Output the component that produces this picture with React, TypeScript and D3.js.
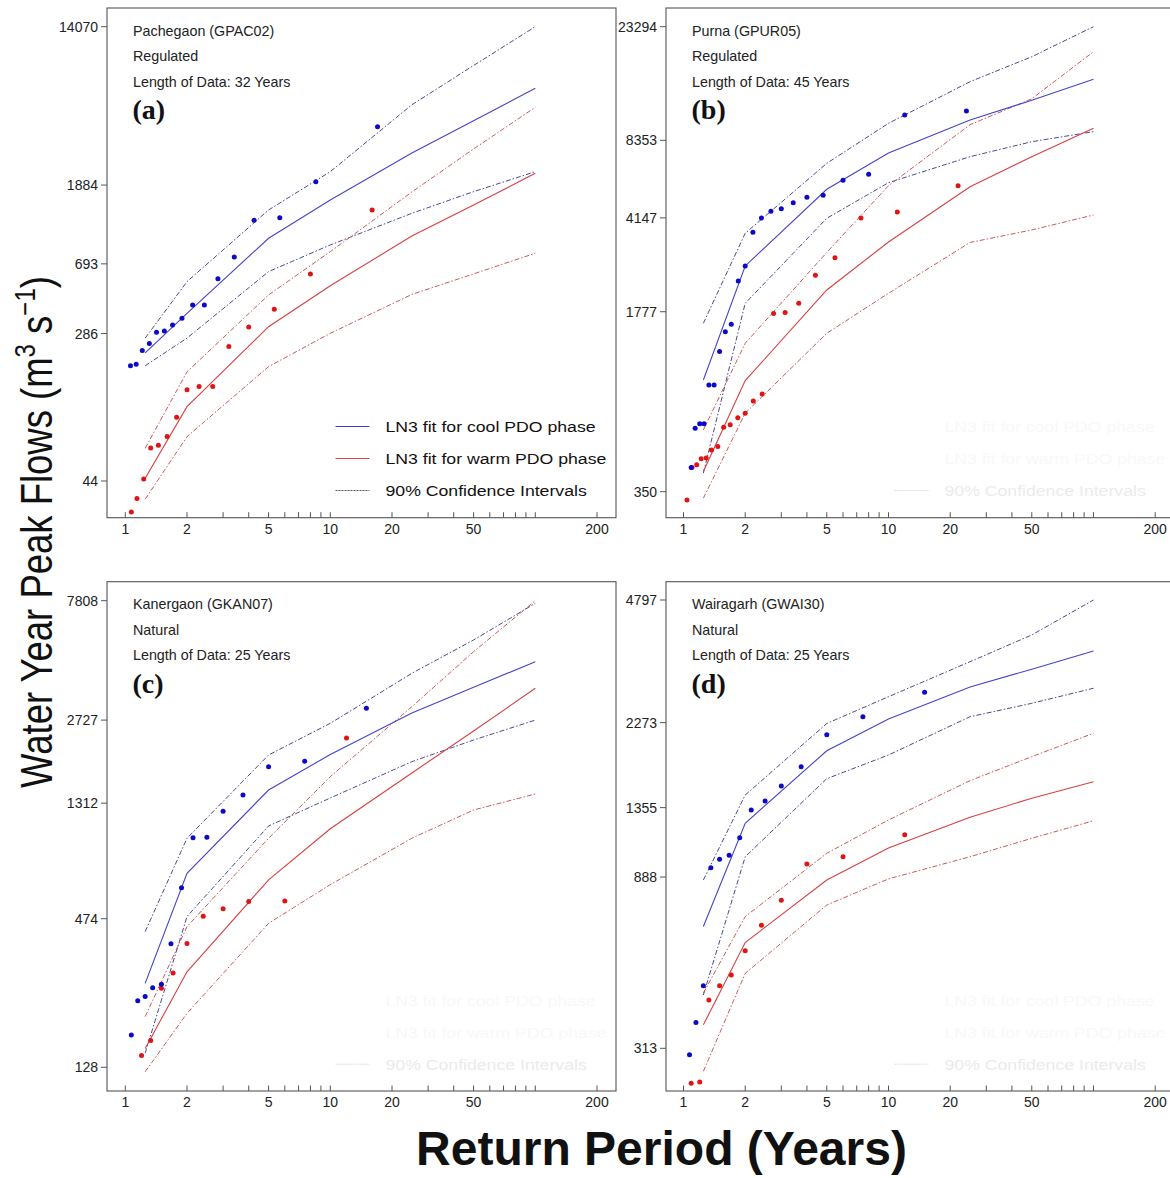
import React from "react";
import * as d3 from "d3";

// ---------- shared data ----------
const fitReturnPeriods = [1.25, 2, 5, 10, 25, 50, 100];
const xTickValues = [1, 2, 3, 4, 5, 6, 7, 8, 9, 10, 20, 30, 40, 50, 60, 70, 80, 90, 100, 200];
const xTickLabels = [1, 2, 5, 10, 20, 50, 200];
const legendLabels = ["LN3 fit for cool PDO phase", "LN3 fit for warm PDO phase", "90% Confidence Intervals"];

// ---------- (a) Pachegaon ----------
const aInfo = ["Pachegaon (GPAC02)", "Regulated", "Length of Data: 32 Years", "(a)"];
const aYTicks = [44, 286, 693, 1884, 14070];
const aCoolT = [1.06, 1.13, 1.21, 1.31, 1.42, 1.55, 1.7, 1.89, 2.13, 2.43, 2.83, 3.4, 4.25, 5.67, 8.5, 17];
const aCoolQ = [190, 194, 231, 252, 291, 295, 319, 347, 411, 411, 574, 756, 1205, 1245, 1967, 3954];
const aWarmT = [1.07, 1.14, 1.23, 1.33, 1.45, 1.6, 1.78, 2, 2.29, 2.67, 3.2, 4, 5.33, 8, 16];
const aWarmQ = [29.7, 35.2, 45.2, 66.9, 69.3, 77.3, 98.9, 140, 146, 146, 243, 311, 389, 610, 1373];
const aCoolFit = [224, 370, 959, 1560, 2828, 4261, 6436];
const aCoolUp = [270, 553, 1373, 2234, 5221, 8600, 14070];
const aCoolLo = [190, 270, 628, 881, 1317, 1733, 2234];
const aWarmFit = [45.6, 113, 312, 525, 987, 1463, 2188];
const aWarmUp = [66.7, 176, 467, 809, 1726, 2980, 5058];
const aWarmLo = [34.9, 77.3, 188, 287, 470, 610, 793];

// ---------- (b) Purna ----------
const bInfo = ["Purna (GPUR05)", "Regulated", "Length of Data: 45 Years", "(b)"];
const bYTicks = [350, 1777, 4147, 8353, 23294];
const bCoolT = [1.09, 1.14, 1.2, 1.26, 1.33, 1.41, 1.5, 1.6, 1.71, 1.85, 2, 2.18, 2.4, 2.67, 3, 3.43, 4, 4.8, 6, 8, 12, 24];
const bCoolQ = [435, 621, 647, 647, 918, 918, 1240, 1484, 1587, 2346, 2686, 3640, 4143, 4401, 4506, 4756, 4993, 5084, 5823, 6147, 10498, 10882];
const bWarmT = [1.04, 1.1, 1.16, 1.22, 1.29, 1.37, 1.47, 1.57, 1.69, 1.84, 2, 2.19, 2.42, 2.75, 3.13, 3.65, 4.4, 5.48, 7.34, 11.04, 21.85];
const bWarmQ = [325, 435, 446, 471, 474, 510, 526, 626, 641, 683, 711, 794, 846, 1747, 1763, 1918, 2470, 2895, 4143, 4373, 5545];
const bCoolFit = [960, 2686, 5368, 7450, 10035, 11988, 14488];
const bCoolUp = [1601, 3608, 6785, 9739, 14178, 17766, 23294];
const bCoolLo = [414, 1918, 4131, 5697, 7205, 8249, 9029];
const bWarmFit = [420, 954, 2163, 3336, 5495, 7205, 9308];
const bWarmUp = [611, 1337, 3035, 5545, 9616, 12152, 18587];
const bWarmLo = [330, 711, 1463, 2099, 3321, 3718, 4256];

// ---------- (c) Kanergaon ----------
const cInfo = ["Kanergaon (GKAN07)", "Natural", "Length of Data: 25 Years", "(c)"];
const cYTicks = [128, 474, 1312, 2727, 7808];
const cCoolT = [1.07, 1.15, 1.25, 1.36, 1.5, 1.67, 1.88, 2.14, 2.5, 3, 3.75, 5, 7.5, 15];
const cCoolQ = [170, 230, 239, 258, 266, 380, 622, 968, 971, 1221, 1410, 1809, 1897, 3027];
const cWarmT = [1.2, 1.33, 1.5, 1.71, 2, 2.4, 3, 4, 6, 12];
const cWarmQ = [142, 162, 257, 294, 381, 484, 517, 551, 554, 2329];
const cCoolFit = [268, 707, 1473, 2014, 2904, 3640, 4561];
const cCoolUp = [423, 963, 2005, 2651, 4119, 5524, 7630];
const cCoolLo = [145, 483, 1073, 1373, 1891, 2288, 2727];
const cWarmFit = [151, 297, 667, 1047, 1712, 2477, 3609];
const cWarmUp = [200, 442, 963, 1657, 3069, 4983, 7808];
const cWarmLo = [123, 206, 455, 640, 963, 1235, 1422];

// ---------- (d) Wairagarh ----------
const dInfo = ["Wairagarh (GWAI30)", "Natural", "Length of Data: 25 Years", "(d)"];
const dYTicks = [313, 888, 1355, 2273, 4797];
const dCoolT = [1.07, 1.15, 1.25, 1.36, 1.5, 1.67, 1.88, 2.14, 2.5, 3, 3.75, 5, 7.5, 15];
const dCoolQ = [301, 366, 458, 940, 990, 1014, 1128, 1336, 1411, 1546, 1739, 2113, 2357, 2735];
const dWarmT = [1.09, 1.2, 1.33, 1.5, 1.71, 2, 2.4, 3, 4, 6, 12];
const dWarmQ = [253, 255, 420, 458, 489, 567, 662, 771, 962, 1005, 1149];
const dCoolFit = [657, 1232, 1916, 2325, 2825, 3147, 3517];
const dCoolUp = [872, 1463, 2262, 2662, 3295, 3877, 4797];
const dCoolLo = [433, 1005, 1616, 1867, 2357, 2557, 2803];
const dWarmFit = [361, 596, 872, 1060, 1278, 1435, 1587];
const dWarmUp = [438, 698, 1026, 1257, 1597, 1848, 2131];
const dWarmLo = [272, 494, 749, 878, 1005, 1124, 1251];

const panels = [
  { info: aInfo, yTicks: aYTicks, coolT: aCoolT, coolQ: aCoolQ, warmT: aWarmT, warmQ: aWarmQ,
    coolFit: aCoolFit, coolUp: aCoolUp, coolLo: aCoolLo, warmFit: aWarmFit, warmUp: aWarmUp, warmLo: aWarmLo,
    layout: { left: 107, right: 616, top: 8, bottom: 517.7, x1: 125.3, yLo: 481, yHi: 26.7 }, legend: "full" },
  { info: bInfo, yTicks: bYTicks, coolT: bCoolT, coolQ: bCoolQ, warmT: bWarmT, warmQ: bWarmQ,
    coolFit: bCoolFit, coolUp: bCoolUp, coolLo: bCoolLo, warmFit: bWarmFit, warmUp: bWarmUp, warmLo: bWarmLo,
    layout: { left: 666, right: 1176, top: 8, bottom: 517.7, x1: 683.5, yLo: 491.7, yHi: 26.7 }, legend: "ghost" },
  { info: cInfo, yTicks: cYTicks, coolT: cCoolT, coolQ: cCoolQ, warmT: cWarmT, warmQ: cWarmQ,
    coolFit: cCoolFit, coolUp: cCoolUp, coolLo: cCoolLo, warmFit: cWarmFit, warmUp: cWarmUp, warmLo: cWarmLo,
    layout: { left: 107, right: 616, top: 581.7, bottom: 1091, x1: 125.3, yLo: 1067.3, yHi: 600.7 }, legend: "ghost" },
  { info: dInfo, yTicks: dYTicks, coolT: dCoolT, coolQ: dCoolQ, warmT: dWarmT, warmQ: dWarmQ,
    coolFit: dCoolFit, coolUp: dCoolUp, coolLo: dCoolLo, warmFit: dWarmFit, warmUp: dWarmUp, warmLo: dWarmLo,
    layout: { left: 666, right: 1176, top: 581.7, bottom: 1091, x1: 683.5, yLo: 1048.3, yHi: 600 }, legend: "ghost" },
];

const SANS = "'Liberation Sans', Arial, Helvetica, sans-serif";
const SERIF = "'Liberation Serif', 'Times New Roman', serif";
const BLUE_PT = "#0a0ac8";
const RED_PT = "#e01414";
const BLUE_FIT = "#4444cc";
const RED_FIT = "#d84040";
const BLUE_CI = "#4a4a90";
const RED_CI = "#c85a5a";
const CI_DASH = "5,2,1.5,2";

function Panel({ p }: { p: any }) {
  const L = p.layout;
  const x = d3.scaleLog().domain([1, 200]).range([L.x1, L.x1 + 471.7]);
  const y = d3
    .scaleLog()
    .domain([p.yTicks[0], p.yTicks[p.yTicks.length - 1]])
    .range([L.yLo, L.yHi]);
  const line = d3
    .line<[number, number]>()
    .x((d) => x(d[0]))
    .y((d) => y(d[1]));
  const mk = (vals: number[]) => line(fitReturnPeriods.map((t, i) => [t, vals[i]]) as [number, number][]) || "";

  const legX0 = L.left + 228.5;
  const legX1 = L.left + 262.5;
  const legTx = L.left + 278.5;
  const legY = [L.top + 418.5, L.top + 450.5, L.top + 482.5];
  const ghost = p.legend === "ghost";
  const stretch = `translate(${legTx},0) scale(1.14,1) translate(${-legTx},0)`;

  return (
    <g>
      {/* frame */}
      <rect x={L.left} y={L.top} width={L.right - L.left} height={L.bottom - L.top} fill="none" stroke="#555" strokeWidth={1.1} />

      {/* y ticks */}
      {p.yTicks.map((v: number) => (
        <g key={"y" + v}>
          <line x1={L.left - 6} x2={L.left} y1={y(v)} y2={y(v)} stroke="#555" strokeWidth={1} />
          <text x={L.left - 9} y={y(v)} dy="0.36em" textAnchor="end" fontFamily={SANS} fontSize={14} fill="#222">
            {v}
          </text>
        </g>
      ))}

      {/* x ticks */}
      {xTickValues.map((t) => (
        <line key={"xt" + t} x1={x(t)} x2={x(t)} y1={L.bottom} y2={L.bottom - 5.5} stroke="#555" strokeWidth={1} />
      ))}
      {xTickLabels.map((t) => (
        <text key={"xl" + t} x={x(t)} y={L.bottom + 16} textAnchor="middle" fontFamily={SANS} fontSize={14} fill="#222">
          {t}
        </text>
      ))}

      {/* info text */}
      <text x={L.left + 26} y={L.top + 27.5} fontFamily={SANS} fontSize={14.3} fill="#222">{p.info[0]}</text>
      <text x={L.left + 26} y={L.top + 53} fontFamily={SANS} fontSize={14.3} fill="#222">{p.info[1]}</text>
      <text x={L.left + 26} y={L.top + 78.5} fontFamily={SANS} fontSize={14.3} fill="#222">{p.info[2]}</text>
      <text x={L.left + 25.5} y={L.top + 111} fontFamily={SERIF} fontWeight="bold" fontSize={28} fill="#111">{p.info[3]}</text>

      {/* confidence intervals */}
      <path d={mk(p.coolUp)} fill="none" stroke={BLUE_CI} strokeWidth={1} strokeDasharray={CI_DASH} />
      <path d={mk(p.coolLo)} fill="none" stroke={BLUE_CI} strokeWidth={1} strokeDasharray={CI_DASH} />
      <path d={mk(p.warmUp)} fill="none" stroke={RED_CI} strokeWidth={1} strokeDasharray={CI_DASH} />
      <path d={mk(p.warmLo)} fill="none" stroke={RED_CI} strokeWidth={1} strokeDasharray={CI_DASH} />
      {/* fits */}
      <path d={mk(p.coolFit)} fill="none" stroke={BLUE_FIT} strokeWidth={1.1} />
      <path d={mk(p.warmFit)} fill="none" stroke={RED_FIT} strokeWidth={1.1} />

      {/* points */}
      {p.warmT.map((t: number, i: number) => (
        <circle key={"w" + i} cx={x(t)} cy={y(p.warmQ[i])} r={2.5} fill={RED_PT} />
      ))}
      {p.coolT.map((t: number, i: number) => (
        <circle key={"c" + i} cx={x(t)} cy={y(p.coolQ[i])} r={2.5} fill={BLUE_PT} />
      ))}

      {/* legend */}
      {ghost ? (
        <g>
          <text x={legTx} y={legY[0]} dy="0.36em" fontFamily={SANS} fontSize={15.5} fill="#f8f8f8" transform={stretch}>{legendLabels[0]}</text>
          <text x={legTx} y={legY[1]} dy="0.36em" fontFamily={SANS} fontSize={15.5} fill="#f8f8f8" transform={stretch}>{legendLabels[1]}</text>
          <line x1={legX0} x2={legX1} y1={legY[2]} y2={legY[2]} stroke="#dddddd" strokeWidth={1} strokeDasharray="2,1" />
          <text x={legTx} y={legY[2]} dy="0.36em" fontFamily={SANS} fontSize={15.5} fill="#ebebeb" transform={stretch}>{legendLabels[2]}</text>
        </g>
      ) : (
        <g>
          <line x1={legX0} x2={legX1} y1={legY[0]} y2={legY[0]} stroke="#3a3ae6" strokeWidth={1} />
          <line x1={legX0} x2={legX1} y1={legY[1]} y2={legY[1]} stroke="#e04040" strokeWidth={1} />
          <line x1={legX0} x2={legX1} y1={legY[2]} y2={legY[2]} stroke="#555" strokeWidth={1} strokeDasharray="2,1" />
          {legendLabels.map((s, i) => (
            <text key={"lg" + i} x={legTx} y={legY[i]} dy="0.36em" fontFamily={SANS} fontSize={15.5} fill="#111" transform={stretch}>{s}</text>
          ))}
        </g>
      )}
    </g>
  );
}

export default function App() {
  return (
    <svg width={1170} height={1178} style={{ position: "absolute", left: 0, top: 0, background: "#fff" }}>
      <rect x={0} y={0} width={1170} height={1178} fill="#fff" />
      {panels.map((p, i) => (
        <Panel key={i} p={p} />
      ))}
      {/* y-axis title */}
      <text transform="translate(52,532) scale(1.2,1) rotate(-90)" textAnchor="middle" fontFamily={SANS} fontSize={36.5} fill="#111">
        Water Year Peak Flows (m
        <tspan dy={-14} fontSize={24}>3</tspan>
        <tspan dy={14}> s</tspan>
        <tspan dy={-14} fontSize={24}>−1</tspan>
        <tspan dy={14}>)</tspan>
      </text>
      {/* x-axis title */}
      <text x={661.5} y={1165} textAnchor="middle" fontFamily={SANS} fontWeight="bold" fontSize={48} fill="#111">
        Return Period (Years)
      </text>
    </svg>
  );
}
